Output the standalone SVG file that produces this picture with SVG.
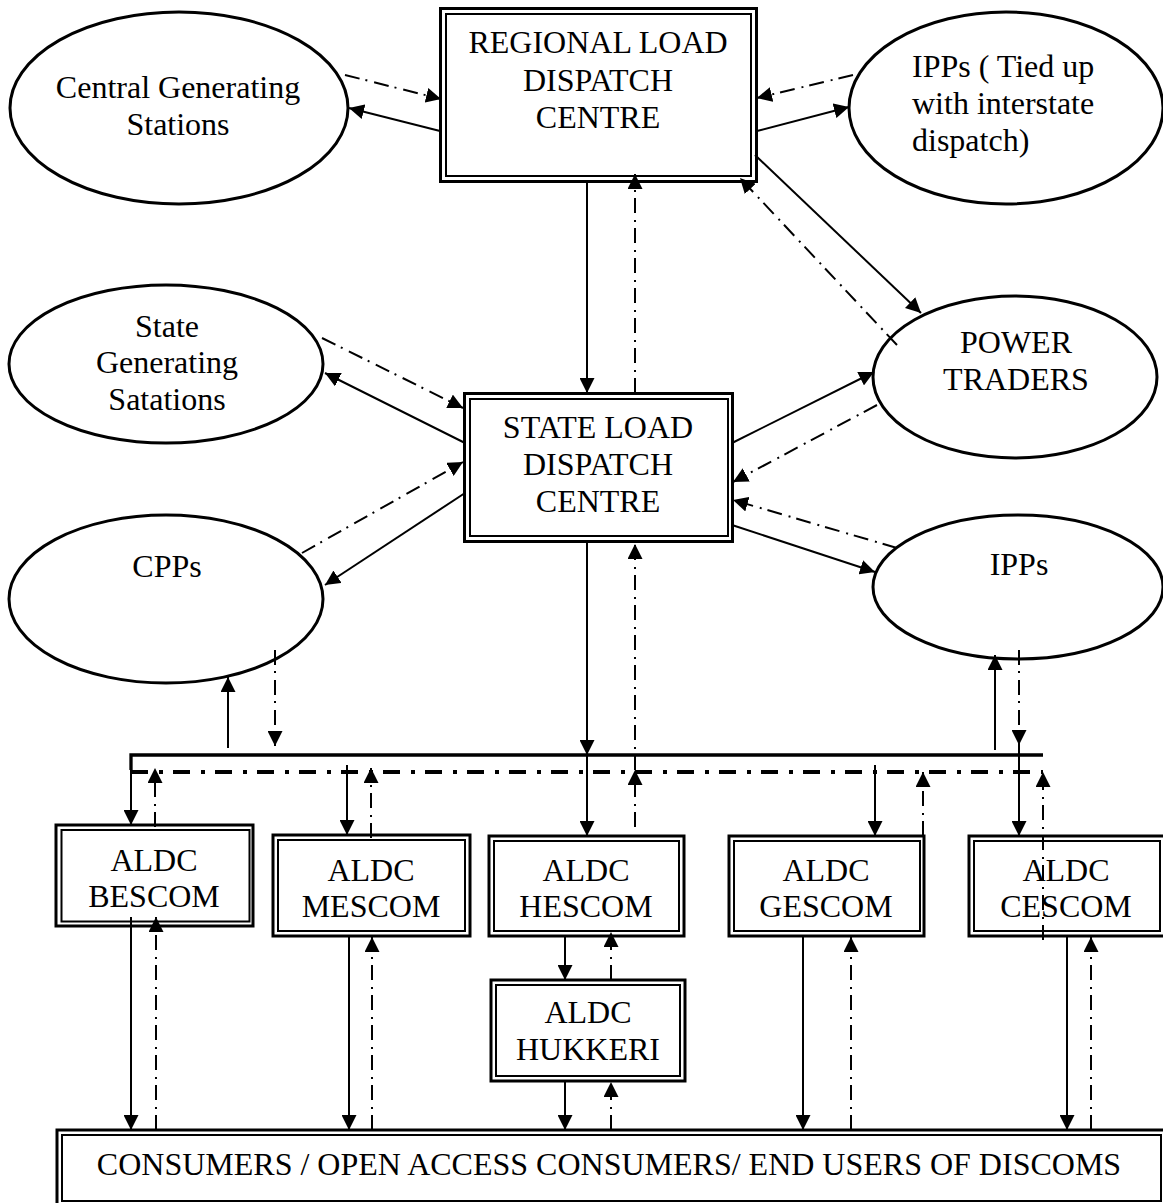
<svg xmlns="http://www.w3.org/2000/svg" width="1163" height="1203" viewBox="0 0 1163 1203">
<style>
text{font-family:"Liberation Serif","Times New Roman",serif;font-size:32px;fill:#000;text-anchor:middle}
.el{fill:#fff;stroke:#000;stroke-width:3}
.bo{fill:#fff;stroke:#000;stroke-width:3}
.bi{fill:none;stroke:#000;stroke-width:2}
.s{fill:none;stroke:#000;stroke-width:2;marker-end:url(#ah)}
.d{fill:none;stroke:#000;stroke-width:2;stroke-dasharray:15 6 2 7;marker-end:url(#ah)}
.bus{fill:none;stroke:#000;stroke-width:3.3}
.busd{fill:none;stroke:#000;stroke-width:4;stroke-dasharray:17 11 4 10}
</style>
<defs>
<marker id="ah" markerUnits="userSpaceOnUse" markerWidth="15" markerHeight="15" refX="15" refY="7.5" orient="auto">
<path d="M0,0 L15,7.5 L0,15 z" fill="#000"/>
</marker>
</defs>
<rect width="1163" height="1203" fill="#fff"/>

<g id="central">
<ellipse class="el" cx="179" cy="108" rx="169" ry="96"/>
<text x="178" y="98">Central Generating</text>
<text x="178" y="135">Stations</text>
</g>
<g id="rldc">
<rect class="bo" x="440.5" y="8.5" width="316" height="173"/>
<rect class="bi" x="446" y="14" width="305" height="162"/>
<text x="598" y="53">REGIONAL LOAD</text>
<text x="598" y="91">DISPATCH</text>
<text x="598" y="128">CENTRE</text>
</g>
<g id="ipps-tied">
<ellipse class="el" cx="1006" cy="108" rx="157" ry="96"/>
<text x="912" y="77" style="text-anchor:start">IPPs ( Tied up</text>
<text x="912" y="114" style="text-anchor:start">with interstate</text>
<text x="912" y="151" style="text-anchor:start">dispatch)</text>
</g>
<g id="state-gen">
<ellipse class="el" cx="166" cy="364" rx="157" ry="79"/>
<text x="167" y="337">State</text>
<text x="167" y="373">Generating</text>
<text x="167" y="410">Satations</text>
</g>
<g id="power-traders">
<ellipse class="el" cx="1015" cy="377" rx="142" ry="81"/>
<text x="1016" y="353">POWER</text>
<text x="1016" y="390">TRADERS</text>
</g>
<g id="sldc">
<rect class="bo" x="464.5" y="393.5" width="268" height="148"/>
<rect class="bi" x="470" y="399" width="258" height="137"/>
<text x="598" y="438">STATE LOAD</text>
<text x="598" y="475">DISPATCH</text>
<text x="598" y="512">CENTRE</text>
</g>
<g id="cpps">
<ellipse class="el" cx="166" cy="599" rx="157" ry="84"/>
<text x="167" y="577">CPPs</text>
</g>
<g id="ipps">
<ellipse class="el" cx="1018" cy="587" rx="145" ry="72"/>
<text x="1019" y="575">IPPs</text>
</g>
<g id="aldc-bescom">
<rect class="bo" x="56" y="825" width="197" height="101"/>
<rect class="bi" x="61.5" y="830" width="188" height="91.5"/>
<text x="154" y="871">ALDC</text>
<text x="154" y="907">BESCOM</text>
</g>
<g id="aldc-mescom">
<rect class="bo" x="273" y="835" width="197" height="101"/>
<rect class="bi" x="278" y="840" width="187" height="91"/>
<text x="371" y="881">ALDC</text>
<text x="371" y="917">MESCOM</text>
</g>
<g id="aldc-hescom">
<rect class="bo" x="489" y="836" width="195" height="100"/>
<rect class="bi" x="494" y="841" width="185" height="90"/>
<text x="586" y="881">ALDC</text>
<text x="586" y="917">HESCOM</text>
</g>
<g id="aldc-gescom">
<rect class="bo" x="729" y="836" width="195" height="100"/>
<rect class="bi" x="734" y="841" width="186" height="90"/>
<text x="826" y="881">ALDC</text>
<text x="826" y="917">GESCOM</text>
</g>
<g id="aldc-cescom">
<rect class="bo" x="969" y="836" width="197" height="100"/>
<rect class="bi" x="974" y="841" width="186" height="90"/>
<text x="1066" y="881">ALDC</text>
<text x="1066" y="917">CESCOM</text>
</g>
<g id="aldc-hukkeri">
<rect class="bo" x="491" y="980" width="194" height="101"/>
<rect class="bi" x="496" y="985" width="184" height="91"/>
<text x="588" y="1023">ALDC</text>
<text x="588" y="1060">HUKKERI</text>
</g>
<g id="consumers">
<rect class="bo" x="57" y="1130" width="1109" height="80"/>
<rect class="bi" x="62" y="1135" width="1099" height="66"/>
<text x="609" y="1175">CONSUMERS / OPEN ACCESS CONSUMERS/ END USERS OF DISCOMS</text>
</g>

<g id="connectors">
<path class="bus" d="M1043,755 L131,755 L131,770"/>
<path class="busd" d="M131,772 L1043,772"/>
<path class="s" d="M440,131 L349,108"/>
<path class="s" d="M757,131 L849,107"/>
<path class="s" d="M755,155 L921,313"/>
<path class="s" d="M587,183 L587,393"/>
<path class="s" d="M465,443 L325,373"/>
<path class="s" d="M465,493 L325,585"/>
<path class="s" d="M732,443 L874,372"/>
<path class="s" d="M732,525 L875,572"/>
<path class="s" d="M587,543 L587,755"/>
<path class="s" d="M587,755 L587,836"/>
<path class="s" d="M228,748 L228,677"/>
<path class="s" d="M995,750 L995,655"/>
<path class="s" d="M131,768 L131,825"/>
<path class="s" d="M347,765 L347,835"/>
<path class="s" d="M875,765 L875,836"/>
<path class="s" d="M1019,745 L1019,836"/>
<path class="s" d="M131,917 L131,1130"/>
<path class="s" d="M349,937 L349,1130"/>
<path class="s" d="M565,937 L565,980"/>
<path class="s" d="M565,1082 L565,1130"/>
<path class="s" d="M803,937 L803,1130"/>
<path class="s" d="M1067,937 L1067,1130"/>
<path class="d" d="M345,75 L441,99"/>
<path class="d" d="M853,75 L757,98"/>
<path class="d" d="M897,345 L740,178"/>
<path class="d" d="M635,393 L635,174"/>
<path class="d" d="M322,338 L463,408"/>
<path class="d" d="M302,553 L463,462"/>
<path class="d" d="M877,405 L733,482"/>
<path class="d" d="M897,548 L733,500"/>
<path class="d" d="M275,650 L275,746"/>
<path class="d" d="M1019,650 L1019,745"/>
<path class="d" d="M155,827 L155,768"/>
<path class="d" d="M371,838 L371,768"/>
<path class="d" d="M635,827 L635,770"/>
<path class="d" d="M635,770 L635,544"/>
<path class="d" d="M923,836 L923,772"/>
<path class="d" d="M1043,940 L1043,772"/>
<path class="d" d="M156,1130 L156,917"/>
<path class="d" d="M372,1130 L372,937"/>
<path class="d" d="M611,980 L611,932"/>
<path class="d" d="M611,1130 L611,1082"/>
<path class="d" d="M851,1130 L851,937"/>
<path class="d" d="M1091,1130 L1091,937"/>
</g>
</svg>
